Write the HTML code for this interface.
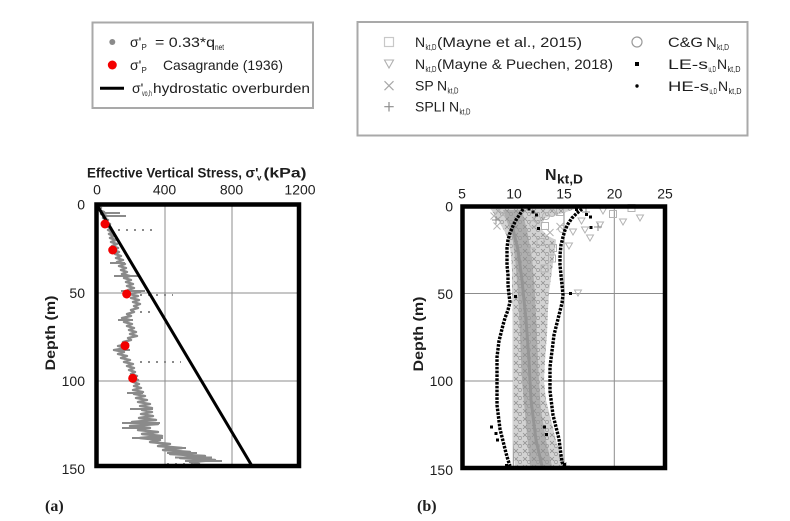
<!DOCTYPE html>
<html><head><meta charset="utf-8">
<style>
html,body{margin:0;padding:0;background:#fff;}
body{width:790px;height:521px;overflow:hidden;}
svg{display:block;}
text{font-family:"Liberation Sans",Arial,sans-serif;fill:#1e1e1e;}
.serif{font-family:"Liberation Serif","Times New Roman",serif;}
</style></head>
<body>
<svg width="790" height="521" viewBox="0 0 790 521" xmlns="http://www.w3.org/2000/svg">
<defs>
<pattern id="mk" width="9" height="8" patternUnits="userSpaceOnUse">
<path d="M1,1 l4,4 M5,1 l-4,4" stroke="#8f8f8f" stroke-width="0.8" fill="none"/>
<circle cx="7" cy="6" r="1.6" stroke="#9a9a9a" stroke-width="0.7" fill="none"/>
</pattern>
</defs>
<rect x="0" y="0" width="790" height="521" fill="#fff"/>

<!-- ============ LEGEND A ============ -->
<rect x="92.5" y="22.5" width="220.5" height="85.5" fill="none" stroke="#a9a9a9" stroke-width="2"/>
<circle cx="112.3" cy="42" r="3" fill="#8a8a8a"/>
<text x="130" y="47" font-size="14">σ'</text>
<text x="141.5" y="50" font-size="8">P</text>
<text x="155" y="47" font-size="14" textLength="60" lengthAdjust="spacingAndGlyphs">= 0.33*q</text>
<text x="215" y="50" font-size="8" textLength="9" lengthAdjust="spacingAndGlyphs">net</text>

<circle cx="112.3" cy="65" r="4.5" fill="#f40000"/>
<text x="130" y="70" font-size="14">σ'</text>
<text x="141.5" y="73" font-size="8">P</text>
<text x="163" y="70" font-size="14" textLength="120" lengthAdjust="spacingAndGlyphs">Casagrande (1936)</text>

<line x1="100" y1="88.3" x2="124" y2="88.3" stroke="#000" stroke-width="3"/>
<text x="132" y="93" font-size="14">σ'</text>
<text x="142" y="96" font-size="8" textLength="10" lengthAdjust="spacingAndGlyphs">vo,h</text>
<text x="153" y="93" font-size="14" textLength="157" lengthAdjust="spacingAndGlyphs">hydrostatic overburden</text>

<!-- ============ LEGEND B ============ -->
<rect x="357.5" y="22" width="390" height="113.5" fill="none" stroke="#a9a9a9" stroke-width="2"/>
<rect x="384.5" y="37.5" width="9" height="9" fill="none" stroke="#c8c8c8" stroke-width="1.2"/>
<text x="415" y="47" font-size="14">N</text>
<text x="425.5" y="50" font-size="8" textLength="11" lengthAdjust="spacingAndGlyphs">kt,D</text>
<text x="437" y="47" font-size="14" textLength="145" lengthAdjust="spacingAndGlyphs">(Mayne et al., 2015)</text>

<polygon points="384.5,60 393.5,60 389,68" fill="none" stroke="#b0b0b0" stroke-width="1.1"/>
<text x="415" y="69" font-size="14">N</text>
<text x="425.5" y="72" font-size="8" textLength="11" lengthAdjust="spacingAndGlyphs">kt,D</text>
<text x="437" y="69" font-size="14" textLength="176" lengthAdjust="spacingAndGlyphs">(Mayne &amp; Puechen, 2018)</text>

<path d="M384.5,81.2 L393.5,90.2 M393.5,81.2 L384.5,90.2" stroke="#a8a8a8" stroke-width="1.2"/>
<text x="415" y="90.5" font-size="14">SP</text>
<text x="437" y="90.5" font-size="14">N</text>
<text x="447.5" y="93.5" font-size="8" textLength="11" lengthAdjust="spacingAndGlyphs">kt,D</text>

<path d="M389,102 L389,111.5 M384.3,106.7 L393.7,106.7" stroke="#8c8c8c" stroke-width="1.2"/>
<text x="415" y="111.5" font-size="14">SPLI</text>
<text x="449" y="111.5" font-size="14">N</text>
<text x="459.5" y="114.5" font-size="8" textLength="11" lengthAdjust="spacingAndGlyphs">kt,D</text>

<circle cx="637" cy="42" r="5" fill="none" stroke="#9a9a9a" stroke-width="1.2"/>
<text x="668" y="47" font-size="14" textLength="35" lengthAdjust="spacingAndGlyphs">C&amp;G</text>
<text x="706.5" y="47" font-size="14">N</text>
<text x="717" y="50" font-size="8" textLength="12" lengthAdjust="spacingAndGlyphs">kt,D</text>

<rect x="635" y="62" width="4" height="4" fill="#000"/>
<text x="668" y="69" font-size="14" textLength="40" lengthAdjust="spacingAndGlyphs">LE-s</text>
<text x="708.5" y="72" font-size="8" textLength="7.5" lengthAdjust="spacingAndGlyphs">u,D</text>
<text x="717" y="69" font-size="14">N</text>
<text x="727.5" y="72" font-size="8" textLength="13" lengthAdjust="spacingAndGlyphs">kt,D</text>

<circle cx="637" cy="86" r="1.7" fill="#000"/>
<text x="668" y="91" font-size="14" textLength="41" lengthAdjust="spacingAndGlyphs">HE-s</text>
<text x="709.5" y="94" font-size="8" textLength="7.5" lengthAdjust="spacingAndGlyphs">u,D</text>
<text x="718" y="91" font-size="14">N</text>
<text x="728.5" y="94" font-size="8" textLength="13" lengthAdjust="spacingAndGlyphs">kt,D</text>

<!-- ============ PLOT A ============ -->
<text x="87" y="177.5" font-size="14" font-weight="bold" textLength="155" lengthAdjust="spacingAndGlyphs">Effective Vertical Stress,</text>
<text x="245.5" y="177.5" font-size="14" font-weight="bold">σ'</text>
<text x="257" y="180.5" font-size="8" font-weight="bold">v</text>
<text x="263.5" y="177.5" font-size="14" font-weight="bold" textLength="43" lengthAdjust="spacingAndGlyphs">(kPa)</text>

<g font-size="14" text-anchor="middle">
<text x="97" y="194.5">0</text>
<text x="164.5" y="194.5">400</text>
<text x="231.5" y="194.5">800</text>
<text x="300" y="194.5">1200</text>
</g>
<g font-size="14" text-anchor="end">
<text x="85" y="209.5">0</text>
<text x="85" y="298">50</text>
<text x="85" y="386">100</text>
<text x="85" y="474">150</text>
</g>
<text transform="translate(55,333) rotate(-90)" text-anchor="middle" font-size="14" font-weight="bold" textLength="75" lengthAdjust="spacingAndGlyphs">Depth (m)</text>

<g stroke="#8c8c8c" stroke-width="1">
<line x1="165" y1="205" x2="165" y2="466"/>
<line x1="232" y1="205" x2="232" y2="466"/>
<line x1="96" y1="293" x2="299" y2="293"/>
<line x1="96" y1="381" x2="299" y2="381"/>
</g>

<!-- gray sigma'p profile -->
<polyline fill="none" stroke="#8a8a8a" stroke-width="2.4" stroke-linejoin="round"
points="97,206 101,208 99,210 104,212 101,214 107,216 103,218 108,220 105,222 110,224 106,226 111,228 108,230 113,232 109,234 114,236 110,238 116,240 111,242 117,244 112,246 118,248 113,250 119,252 115,254 121,256 116,258 123,260 117,262 125,264 119,266 126,268 121,270 127,272 122,274 130,276 124,278 131,280 126,282 133,284 127,286 134,288 128,290 140,292 129,294 138,296 131,298 139,300 133,302 140,304 134,306 138,308 131,310 134,312 127,314 131,316 122,318 130,320 124,322 132,324 127,326 134,328 129,330 136,332 130,334 137,336 128,338 131,340 123,342 128,344 118,346 126,348 114,350 124,352 118,354 127,356 121,358 130,360 124,362 133,364 127,366 134,368 129,370 135,372 131,374 137,376 132,378 138,380 133,382 139,384 134,386 141,388 133,390 143,392 134,394 145,396 136,398 147,400 138,402 150,404 140,406 152,408 142,410 152,412 141,414 153,416 139,418 156,420 132,422 158,424 130,426 150,428 138,430 158,432 142,434 162,436 140,438 160,440 150,442 170,444 158,446 182,448 163,450 190,452 170,454 205,456 180,458 215,460 190,462 200,464"/>
<g stroke="#8a8a8a" stroke-width="2">
<line x1="100" y1="213" x2="120" y2="213"/>
<line x1="103" y1="216" x2="126" y2="216"/>
<line x1="110" y1="263" x2="125" y2="263"/>
<line x1="114" y1="276" x2="138" y2="276"/>
<line x1="121" y1="291" x2="145" y2="291"/>
<line x1="118" y1="320" x2="133" y2="320"/>
<line x1="113" y1="350" x2="130" y2="350"/>
<line x1="127" y1="393" x2="143" y2="393"/>
<line x1="130" y1="409" x2="153" y2="409"/>
<line x1="122" y1="423" x2="160" y2="423"/>
<line x1="122" y1="428" x2="150" y2="428"/>
<line x1="132" y1="438" x2="163" y2="438"/>
<line x1="165" y1="448" x2="186" y2="448"/>
<line x1="167" y1="453" x2="197" y2="453"/>
<line x1="175" y1="457.5" x2="212" y2="457.5"/>
<line x1="185" y1="461" x2="222" y2="461"/>
</g>
<g stroke="#8a8a8a" stroke-width="2" stroke-dasharray="2 6">
<line x1="110" y1="230" x2="158" y2="230"/>
<line x1="140" y1="295" x2="173" y2="295"/>
<line x1="132" y1="312" x2="150" y2="312"/>
<line x1="140" y1="362" x2="181" y2="362"/>
<line x1="167" y1="464" x2="198" y2="464"/>
</g>

<line x1="97" y1="205" x2="252" y2="466" stroke="#000" stroke-width="3"/>

<g fill="#f20000">
<circle cx="105" cy="224" r="4.5"/>
<circle cx="112.7" cy="250" r="4.5"/>
<circle cx="126.7" cy="294" r="4.5"/>
<circle cx="125" cy="345.7" r="4.5"/>
<circle cx="132.7" cy="378.3" r="4.5"/>
</g>

<rect x="96.5" y="204.5" width="202.5" height="261.5" fill="none" stroke="#000" stroke-width="4.5"/>

<text x="45" y="511" class="serif" font-size="16" font-weight="bold">(a)</text>

<!-- ============ PLOT B ============ -->
<text x="545" y="180" font-size="16" font-weight="bold">N</text>
<text x="557" y="183.5" font-size="13" font-weight="bold" textLength="26" lengthAdjust="spacingAndGlyphs">kt,D</text>

<g font-size="14" text-anchor="middle">
<text x="462" y="198.5">5</text>
<text x="514" y="198.5">10</text>
<text x="564" y="198.5">15</text>
<text x="614.5" y="198.5">20</text>
<text x="665" y="198.5">25</text>
</g>
<g font-size="14" text-anchor="end">
<text x="453" y="211.5">0</text>
<text x="453" y="299">50</text>
<text x="453" y="386">100</text>
<text x="453" y="475">150</text>
</g>
<text transform="translate(423,334) rotate(-90)" text-anchor="middle" font-size="14" font-weight="bold" textLength="75" lengthAdjust="spacingAndGlyphs">Depth (m)</text>

<g stroke="#8c8c8c" stroke-width="1">
<line x1="513.3" y1="206" x2="513.3" y2="468"/>
<line x1="564" y1="206" x2="564" y2="468"/>
<line x1="614.3" y1="206" x2="614.3" y2="468"/>
<line x1="462" y1="293.5" x2="665" y2="293.5"/>
<line x1="462" y1="381" x2="665" y2="381"/>
</g>

<!-- gray band -->
<polygon fill="#d2d2d2" points="490,208 494,214 499,222 505,232 509,242 511,255 512,270 512,293 513,320 513,350 513,381 513,410 513,440 515,468 568,468 560,455 556,440 551,420 546,400 544,381 545,360 547,335 548,310 549,293 552,270 555,250 556,240 548,236 540,228 545,218 560,214 575,209 580,208"/>
<polygon fill="url(#mk)" points="490,208 494,214 499,222 505,232 509,242 511,255 512,270 512,293 513,320 513,350 513,381 513,410 513,440 515,468 568,468 560,455 556,440 551,420 546,400 544,381 545,360 547,335 548,310 549,293 552,270 555,250 556,240 548,236 540,228 545,218 560,214 575,209 580,208"/>
<polygon fill="#a8a8a8" opacity="0.85" points="503,210 507,222 512,235 515,258 518,293 520,337 522,381 526,424 530,466 552,466 546,440 541,410 539,381 537,337 535,293 532,258 528,235 525,222 522,210"/>
<polygon fill="url(#mk)" points="503,210 507,222 512,235 515,258 518,293 520,337 522,381 526,424 530,466 552,466 546,440 541,410 539,381 537,337 535,293 532,258 528,235 525,222 522,210"/>
<polyline fill="none" stroke="#959595" stroke-width="3" points="512,225 518,250 522,280 526,320 529,360 531,400 536,440 542,466"/>

<!-- scattered light markers -->
<g fill="none" stroke="#b3b3b3" stroke-width="1">
<polygon points="599.5,208 606.5,208 603,214"/>
<polygon points="619.5,219 626.5,219 623,225"/>
<polygon points="636.5,215 643.5,215 640,221"/>
<polygon points="586.5,235 593.5,235 590,241"/>
<polygon points="581.5,227 588.5,227 585,233"/>
<polygon points="578,218 585,218 581.5,224"/>
<polygon points="596.5,222 603.5,222 600,228"/>
<polygon points="569.5,229 576.5,229 573,235"/>
<polygon points="565.5,243 572.5,243 569,249"/>
<polygon points="574.5,290 581.5,290 578,296"/>
<polygon points="527.5,248 534.5,248 531,254"/>
<rect x="628" y="204.5" width="7" height="7"/>
<rect x="609.5" y="210.5" width="7" height="7"/>
<rect x="556.5" y="208.5" width="7" height="7"/>
<rect x="541.5" y="222.5" width="7" height="7"/>
<rect x="549.5" y="244.5" width="7" height="7"/>
<rect x="548.5" y="255" width="7" height="7"/>
<rect x="537" y="238.5" width="7" height="7"/>
<rect x="541" y="265" width="7" height="7"/>
<circle cx="552" cy="213" r="3.5"/>
<circle cx="562" cy="229" r="3.5"/>
<circle cx="546" cy="216" r="3.5"/>
<circle cx="537" cy="219" r="3.5"/>
<circle cx="533" cy="224" r="3.5"/>
<path d="M556.5,223 l7,7 M563.5,223 l-7,7 M495.5,206.5 l7,7 M502.5,206.5 l-7,7 M490.5,212.5 l7,7 M497.5,212.5 l-7,7 M493.5,222.5 l7,7 M500.5,222.5 l-7,7 M499.5,211 l7,7 M506.5,211 l-7,7 M546.5,229 l7,7 M553.5,229 l-7,7"/>
</g>
<g fill="none" stroke="#8c8c8c" stroke-width="1">
<path d="M598,223 v8 M594,227 h8 M586,208 v8 M582,212 h8 M496,216 v8 M492,220 h8 M566,462 v8 M562,466 h8"/>
</g>

<!-- black dotted LE/HE lines -->
<g fill="none" stroke="#000" stroke-width="3.4" stroke-dasharray="2.6 1.2">
<polyline points="523,209 520,214 516,220 513,226 510,233 508,240 507,248 507,256 507,265 508,275 508,285 509,295 510,302 508,310 505,318 503,325 501,333 499,341 498,349 497,357 497,365 497,373 497,381 497,389 497,397 497,405 498,413 499,421 500,429 502,437 504,445 506,453 508,460 510,466"/>
<polyline points="582,209 577,213 572,218 568,224 565,230 563,237 561,245 560,255 560,265 561,275 562,285 563,295 562,303 560,311 558,319 556,327 554,335 553,343 552,351 551,359 550,367 550,375 550,383 550,391 551,399 552,407 553,415 555,423 557,431 559,439 560,447 561,455 562,462 564,466"/>
</g>
<g fill="#000">
<rect x="527.5" y="207.5" width="3" height="3"/>
<rect x="531.5" y="210.5" width="3" height="3"/>
<rect x="535" y="213.5" width="3" height="3"/>
<rect x="537" y="227" width="3" height="3"/>
<rect x="575" y="208" width="3" height="3"/>
<rect x="585" y="213" width="3" height="3"/>
<rect x="589" y="215.5" width="3" height="3"/>
<rect x="589.5" y="226" width="3" height="3"/>
<rect x="569" y="292" width="3" height="3"/>
<rect x="514" y="295" width="3" height="3"/>
<rect x="490" y="425.5" width="3" height="3"/>
<rect x="494.5" y="432" width="3" height="3"/>
<rect x="496" y="438.5" width="3" height="3"/>
<rect x="543" y="425.5" width="3" height="3"/>
<rect x="545" y="433" width="3" height="3"/>
<rect x="505" y="464" width="3" height="3"/>
<rect x="563" y="463" width="3" height="3"/>
</g>

<rect x="462.5" y="206.5" width="202.5" height="261.5" fill="none" stroke="#000" stroke-width="4.5"/>

<text x="417" y="511" class="serif" font-size="16" font-weight="bold">(b)</text>
</svg>
</body></html>
